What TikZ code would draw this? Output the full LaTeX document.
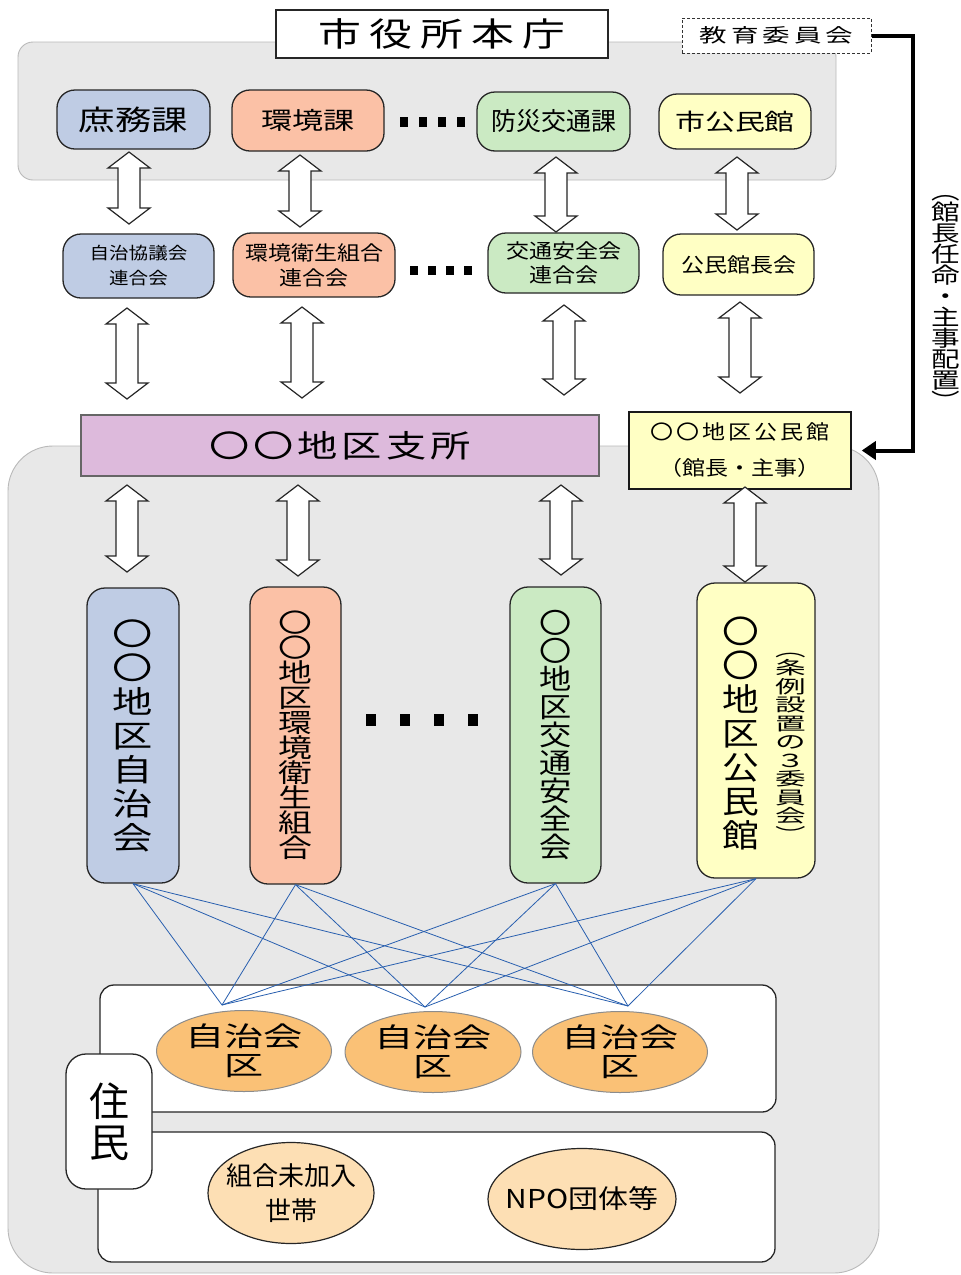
\documentclass[tikz,border=0pt]{standalone}
\usepackage{fontspec}
\setmainfont{Noto Sans CJK JP}
\newfontfamily\jpa[FakeStretch=1.15]{Noto Sans CJK JP}
\newfontfamily\jpb[FakeStretch=1.3]{Noto Sans CJK JP}
\newfontfamily\jpc[FakeStretch=1.45]{Noto Sans CJK JP}
\newfontfamily\jpd[FakeStretch=1.7]{Noto Sans CJK JP}
\usetikzlibrary{shapes.geometric,arrows.meta}
\lineskiplimit=-100pt
\definecolor{blueF}{RGB}{191,204,228}
\definecolor{salF}{RGB}{251,193,166}
\definecolor{grnF}{RGB}{203,234,195}
\definecolor{yelF}{RGB}{255,255,196}
\definecolor{purF}{RGB}{221,186,220}
\definecolor{orgF}{RGB}{250,193,118}
\definecolor{pchF}{RGB}{253,223,180}
\definecolor{grayF}{RGB}{232,232,232}
\definecolor{grayB}{RGB}{185,185,185}
\definecolor{lineB}{RGB}{40,95,175}
\newcommand\spc[1]{\hspace{#1pt}}
\newcommand\fs[2]{\fontsize{#1}{#2}\selectfont}
\tikzset{
  rbox/.style={draw=black!85, line width=1.3pt, rounded corners=18pt, inner sep=0pt, align=center},
  bgbox/.style={draw=grayB, fill=grayF, line width=0.9pt, inner sep=0pt},
  dblarrow/.style={draw=black!85, fill=white, line width=1.2pt, line join=miter},
  link/.style={draw=lineB, line width=0.8pt},
  vtext/.style={inner sep=0pt, align=center},
  oval/.style={ellipse, inner sep=0pt},
}
\newcommand\mydbl[3]{\draw[dblarrow] (#1-11,#2+16) -- (#1-21,#2+16) -- (#1,#2) -- (#1+21,#2+16) -- (#1+11,#2+16) -- (#1+11,#3-16) -- (#1+21,#3-16) -- (#1,#3) -- (#1-21,#3-16) -- (#1-11,#3-16) -- cycle;}
\begin{document}
\begin{tikzpicture}[x=1pt,y=-1pt]
\useasboundingbox (0,0) rectangle (961,1275);
\fill[white] (0,0) rectangle (961,1275);
% backgrounds
\node[bgbox, rounded corners=15pt, minimum width=818pt, minimum height=138pt] (topbg) at (427,111) {};
\node[bgbox, rounded corners=45pt, minimum width=871pt, minimum height=827pt] (botbg) at (443.5,859.5) {};
% headquarters
\node[draw=black!85, fill=white, line width=1.2pt, minimum width=332pt, minimum height=48pt, inner sep=0pt] (hq) at (442,34) {\jpb\fs{33}{33}市\spc{8}役\spc{8}所\spc{8}本\spc{8}庁};
\node[draw=black!80, dash pattern=on 3pt off 2pt, fill=white, line width=1pt, minimum width=189pt, minimum height=35pt, inner sep=0pt] (edu) at (776.5,35.5) {\jpc\fs{19}{19}教\spc{4}育\spc{4}委\spc{4}員\spc{4}会};
% row 1
\node[rbox, fill=blueF, minimum width=153pt, minimum height=59pt, font=\jpb\fs{28}{28}] (d1) at (133.5,119.5) {庶務課};
\node[rbox, fill=salF, minimum width=152pt, minimum height=61pt, font=\jpb\fs{24}{24}] (d2) at (308,120.5) {環境課};
\node[rbox, fill=grnF, minimum width=153pt, minimum height=59pt, font=\fs{25}{25}] (d3) at (553.5,121.5) {防災交通課};
\node[rbox, fill=yelF, minimum width=152pt, minimum height=55pt, font=\jpb\fs{23}{23}] (d4) at (735,121.5) {市公民館};
\foreach \x in {400,419,438,457} \fill (\x,117) rectangle ++(8,10);
% row 2
\node[rbox, fill=blueF, minimum width=151pt, minimum height=64pt, font=\jpa\fs{17}{25}] (c1) at (138.5,266) {自治協議会\\連合会};
\node[rbox, fill=salF, minimum width=162pt, minimum height=64pt, font=\jpa\fs{20}{25}] (c2) at (314,265) {環境衛生組合\\連合会};
\node[rbox, fill=grnF, minimum width=151pt, minimum height=60pt, font=\jpa\fs{20}{24}] (c3) at (563.5,263) {交通安全会\\連合会};
\node[rbox, fill=yelF, minimum width=151pt, minimum height=61pt, font=\jpa\fs{20}{20}] (c4) at (738.5,264.5) {公民館長会};
\foreach \x in {410,428,446,464} \fill (\x,266) rectangle ++(8,9);
% arrows row1 -> row2
\mydbl{129}{152}{224}
\mydbl{300}{155}{227}
\mydbl{556}{157}{232}
\mydbl{737}{157}{230}
% arrows row2 -> branch
\mydbl{127}{308}{399}
\mydbl{302}{307}{398}
\mydbl{564}{305}{395}
\mydbl{740}{302}{393}
% branch office
\node[draw=black!60, fill=purF, line width=1.5pt, minimum width=518pt, minimum height=61pt, inner sep=0pt] (br) at (340,445.5) {\jpb\fs{31}{31}〇\spc{4}〇\spc{4}地\spc{4}区\spc{4}支\spc{4}所};
\node[draw=black!90, fill=yelF, line width=1.5pt, minimum width=222pt, minimum height=77pt, inner sep=0pt, align=center, font=\jpa\fs{20}{36}] (kmk) at (740,450.5) {〇\spc{3}〇\spc{3}地\spc{3}区\spc{3}公\spc{3}民\spc{3}館\\（館長・主事）};
% appointment line
\coordinate (bend) at (913,35.5);
\draw[line width=4pt, -{Triangle[length=14pt,width=18pt]}] (edu.east) -- (bend) |- ([xshift=10pt]kmk.east);
\node[vtext, font=\jpb\fs{22}{21}] (lbl) at (946,302) {︵\\館\\長\\任\\命\\・\\主\\事\\配\\置\\︶};
% arrows branch -> columns
\mydbl{127}{485}{572}
\mydbl{298}{485}{576}
\mydbl{561}{485}{575}
\mydbl{745}{487}{582}
% columns
\node[rbox, fill=blueF, minimum width=92pt, minimum height=295pt, font=\jpb\fs{31}{34}] (v1) at (133,735.5) {〇\\〇\\地\\区\\自\\治\\会};
\node[rbox, fill=salF, minimum width=91pt, minimum height=297pt, font=\jpb\fs{26}{25}] (v2) at (295.5,735.5) {〇\\〇\\地\\区\\環\\境\\衛\\生\\組\\合};
\node[rbox, fill=grnF, minimum width=91pt, minimum height=296pt, font=\jpa\fs{28}{28}] (v3) at (555.5,735) {〇\\〇\\地\\区\\交\\通\\安\\全\\会};
\node[rbox, fill=yelF, minimum width=118pt, minimum height=295pt] (v4) at (756,730.5) {};
\node[vtext, font=\jpa\fs{32}{34}] (v4a) at (741,733) {〇\\〇\\地\\区\\公\\民\\館};
\node[vtext, font=\jpd\fs{18}{18.5}] (v4b) at (791,747) {︵\\条\\例\\設\\置\\の\\３\\委\\員\\会\\︶};
\foreach \x in {366,400,434,468} \fill (\x,714) rectangle ++(10,12);
% residents
\node[draw=black!85, fill=white, line width=1.3pt, rounded corners=14pt, minimum width=676pt, minimum height=127pt, inner sep=0pt] (wr1) at (438,1048.5) {};
\node[draw=black!85, fill=white, line width=1.3pt, rounded corners=14pt, minimum width=677pt, minimum height=130pt, inner sep=0pt] (wr2) at (436.5,1197) {};
\node[draw=black!85, fill=white, line width=1.3pt, rounded corners=20pt, minimum width=86pt, minimum height=135pt, inner sep=0pt, align=center, font=\fs{40}{41}] (jm) at (109,1121.5) {住\\民};
% link endpoints
\coordinate (p1) at (222,1005);
\coordinate (p2) at (425,1007);
\coordinate (p3) at (628,1006);
\foreach \v in {v1,v2,v3,v4}
  \foreach \p in {p1,p2,p3}
    \draw[link] (\v.south) -- (\p);
\node[oval, draw=black!45, fill=orgF, line width=1pt, minimum width=175pt, minimum height=81pt] (e1) at (244,1051) {};
\node[oval, draw=black!45, fill=orgF, line width=1pt, minimum width=176pt, minimum height=81pt] (e2) at (433,1052) {};
\node[oval, draw=black!45, fill=orgF, line width=1pt, minimum width=175pt, minimum height=81pt] (e3) at (620,1052) {};
\foreach \e in {e1,e2,e3}
  \node[vtext, font=\jpc\fs{27}{29}] (\e t) at (\e.center) {自治会\\区};
\node[oval, draw=black!85, fill=pchF, line width=1.2pt, minimum width=166pt, minimum height=101pt] (f1) at (291,1193) {};
\node[vtext, font=\fs{26}{35}] (f1t) at (f1.center) {組合未加入\\世帯};
\node[oval, draw=black!85, fill=pchF, line width=1.2pt, minimum width=188pt, minimum height=101pt] (f2) at (582,1199) {};
\node[vtext, font=\jpa\fs{26}{26}] (f2t) at (f2.center) {NPO団体等};
\end{tikzpicture}
\end{document}
